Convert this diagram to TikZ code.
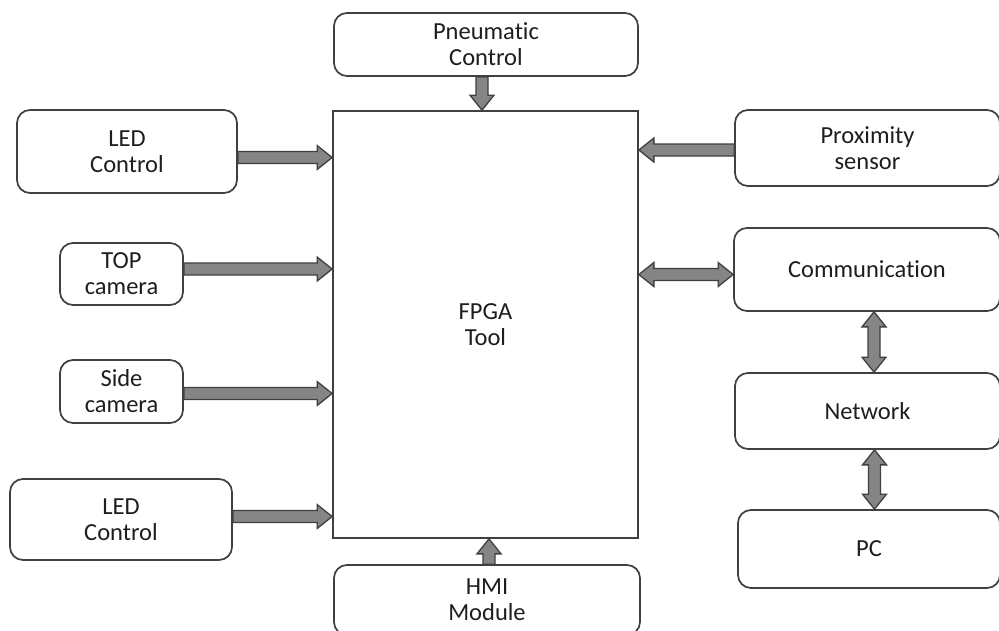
\documentclass[tikz,border=0pt]{standalone}
\usepackage{fontspec}
\setmainfont{Carlito}[Ligatures={NoCommon}]
\usetikzlibrary{calc}
\definecolor{boxline}{HTML}{404040}
\definecolor{arrfill}{HTML}{858585}
\definecolor{txt}{HTML}{1E1E1E}
\tikzset{
  box/.style={draw=boxline, line width=1.7pt, rounded corners=13pt, fill=white,
    inner sep=0pt, align=center, text=txt, font=\fontsize{24.5}{26}\selectfont},
  sqbox/.style={box, rounded corners=0pt},
  blockarr/.style={draw=boxline, fill=arrfill, line width=1.3pt, line join=miter}
}
% single block arrow from #1 to #2
\newcommand\sarrow[2]{%
  \path[blockarr] let \p1=(#1), \p2=(#2),
    \n1={veclen(\x2-\x1,\y2-\y1)}, \n2={atan2(\y2-\y1,\x2-\x1)} in
    [shift={(\p1)}, rotate=\n2]
    (0pt,-6pt) -- (\n1-15pt,-6pt) -- (\n1-15pt,-12pt) -- (\n1,0pt) --
    (\n1-15pt,12pt) -- (\n1-15pt,6pt) -- (0pt,6pt) -- cycle;}
% double block arrow between #1 and #2
\newcommand\darrow[2]{%
  \path[blockarr] let \p1=(#1), \p2=(#2),
    \n1={veclen(\x2-\x1,\y2-\y1)}, \n2={atan2(\y2-\y1,\x2-\x1)} in
    [shift={(\p1)}, rotate=\n2]
    (0pt,0pt) -- (15pt,-12pt) -- (15pt,-6pt) -- (\n1-15pt,-6pt) -- (\n1-15pt,-12pt) --
    (\n1,0pt) -- (\n1-15pt,12pt) -- (\n1-15pt,6pt) -- (15pt,6pt) -- (15pt,12pt) -- cycle;}
\begin{document}
\begin{tikzpicture}[x=1pt,y=-1pt]
\useasboundingbox (0,0) rectangle (999,630);
\clip (0,0) rectangle (999,630);
\fill[white] (0,0) rectangle (999,630);

\node[sqbox, minimum width=305pt, minimum height=427pt] (fpga) at (485.5,324.5) {FPGA\\Tool};
\node[box, minimum width=304pt, minimum height=63pt] (pneu) at (486,44.5) {Pneumatic\\Control};
\node[box, minimum width=220pt, minimum height=83pt] (led1) at (127,151.5) {LED\\Control};
\node[box, minimum width=123pt, minimum height=62pt] (top) at (121.5,274) {TOP\\camera};
\node[box, minimum width=123pt, minimum height=63pt] (side) at (121.5,391.5) {Side\\camera};
\node[box, minimum width=222pt, minimum height=81pt] (led2) at (121,519.5) {LED\\Control};
\node[box, minimum width=306pt, minimum height=70pt] (hmi) at (487,600) {HMI\\Module};
\node[box, minimum width=265pt, minimum height=76pt] (prox) at (867.5,148) {Proximity\\sensor};
\node[box, minimum width=266pt, minimum height=83pt] (comm) at (867,269.5) {Communication};
\node[box, minimum width=265pt, minimum height=76pt] (net) at (867.5,411) {Network};
\node[box, minimum width=262pt, minimum height=78pt] (pc) at (869,549) {PC};

\coordinate (a1) at ($(led1.east)+(0,6)$);
\sarrow{a1}{a1 -| fpga.west}
\coordinate (a2) at ($(top.east)+(0,-5)$);
\sarrow{a2}{a2 -| fpga.west}
\coordinate (a3) at ($(side.east)+(0,2)$);
\sarrow{a3}{a3 -| fpga.west}
\coordinate (a4) at ($(led2.east)+(0,-3)$);
\sarrow{a4}{a4 -| fpga.west}
\coordinate (a5) at ($(pneu.south)+(-4,0)$);
\sarrow{a5}{a5 |- fpga.north}
\coordinate (a6) at ($(hmi.north)+(2,0)$);
\sarrow{a6}{a6 |- fpga.south}
\coordinate (a7) at ($(prox.west)+(0,2)$);
\sarrow{a7}{a7 -| fpga.east}
\coordinate (a8) at ($(comm.west)+(0,5)$);
\darrow{a8 -| fpga.east}{a8}
\coordinate (a9) at ($(comm.south)+(7,0)$);
\darrow{a9}{a9 |- net.north}
\coordinate (a10) at ($(net.south)+(7,0)$);
\darrow{a10}{a10 |- pc.north}
\end{tikzpicture}
\end{document}
